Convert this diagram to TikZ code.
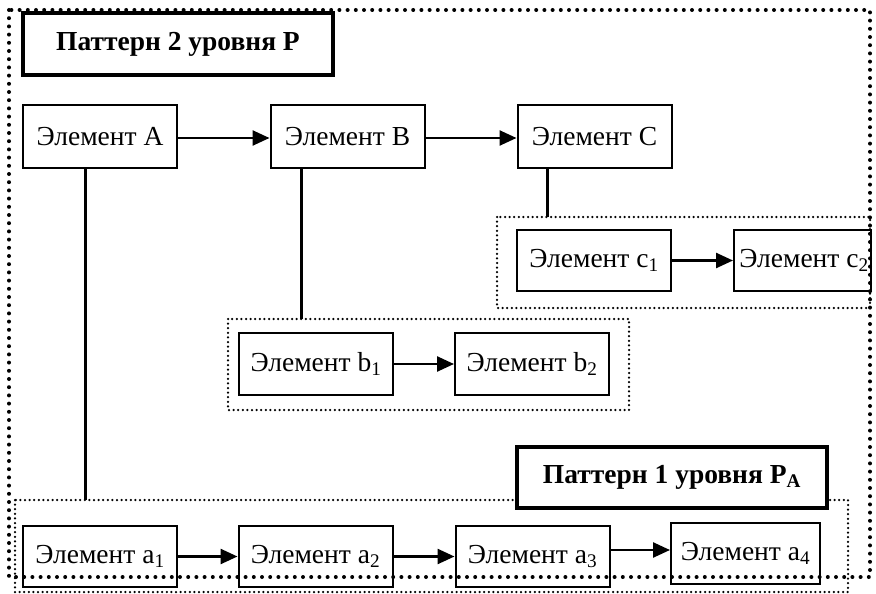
\documentclass[tikz,border=0pt]{standalone}
\usepackage{fontspec}
\setmainfont{Liberation Serif}
\usetikzlibrary{arrows.meta}
\tikzset{
  elem/.style={draw=black, fill=white, line width=2pt, inner sep=0pt, minimum width=154pt, minimum height=62pt, font=\fontsize{27.5}{32}\selectfont},
  titlebox/.style={draw=black, fill=white, line width=3.5pt, inner sep=0pt, font=\fontsize{27.5}{32}\selectfont\bfseries},
  outerdots/.style={line width=4pt, dash pattern=on 0pt off 8.2pt, line cap=round},
  groupdots/.style={line width=2.5pt, dash pattern=on 0pt off 4.6pt, line cap=round},
  flow/.style={line width=2.5pt, -{Triangle[length=17pt,width=15pt]}},
  link/.style={line width=3pt}
}
\begin{document}
\begin{tikzpicture}[x=1pt,y=-1pt]
\useasboundingbox (0,0) rectangle (876,594);
% group frames
\draw[groupdots] (497,217) rectangle (870,308);
\draw[groupdots] (228,319) rectangle (629,410);
\draw[groupdots] (15,500) rectangle (848,592);
% title boxes
\node[titlebox, minimum width=310pt, minimum height=62pt] (T2) at (178,44) {Паттерн 2 уровня P};
\node[titlebox, minimum width=310pt, minimum height=61pt] (T1) at (672,477.5) {Паттерн 1 уровня P\textsubscript{A}};
% top level
\node[elem, minimum height=63pt] (A) at (100,136.5) {Элемент A};
\node[elem, minimum height=63pt] (B) at (347.5,136.5) {Элемент B};
\node[elem, minimum height=63pt] (C) at (594.5,136.5) {Элемент C};
% c group
\node[elem, minimum height=61pt] (c1) at (594,260.5) {Элемент c\textsubscript{1}};
\node[elem, minimum width=137pt, minimum height=61pt, anchor=west] (c2) at (733,260.5) {\hspace*{3pt}Элемент c\textsubscript{2}};
% b group
\node[elem] (b1) at (316,364) {Элемент b\textsubscript{1}};
\node[elem] (b2) at (532,364) {Элемент b\textsubscript{2}};
% a group
\node[elem, minimum height=61pt] (a1) at (100,556.5) {Элемент a\textsubscript{1}};
\node[elem, minimum height=61pt] (a2) at (315.5,556.5) {Элемент a\textsubscript{2}};
\node[elem, minimum height=61pt] (a3) at (532.5,556.5) {Элемент a\textsubscript{3}};
\node[elem, minimum width=149pt, minimum height=61pt] (a4) at (745.5,553.5) {Элемент a\textsubscript{4}};
% connector ends
\coordinate (aTop) at (85,500);
\coordinate (bTop) at (301,319);
\coordinate (cTop) at (547,217);
% vertical links
\draw[link] (A.south -| aTop) -- (aTop);
\draw[link] (B.south -| bTop) -- (bTop);
\draw[link] (C.south -| cTop) -- (cTop);
% arrows
\draw[flow] (A.east |- 0,138) -- (B.west |- 0,138);
\draw[flow] (B.east |- 0,138) -- (C.west |- 0,138);
\draw[flow] (c1) -- (c2);
\draw[flow] (b1) -- (b2);
\draw[flow] (a1) -- (a2);
\draw[flow] (a2) -- (a3);
\draw[flow] (a3.east |- 0,550) -- (a4.west |- 0,550);
% outer frame
\draw[outerdots] (9,10) rectangle (870,577);
\end{tikzpicture}
\end{document}
